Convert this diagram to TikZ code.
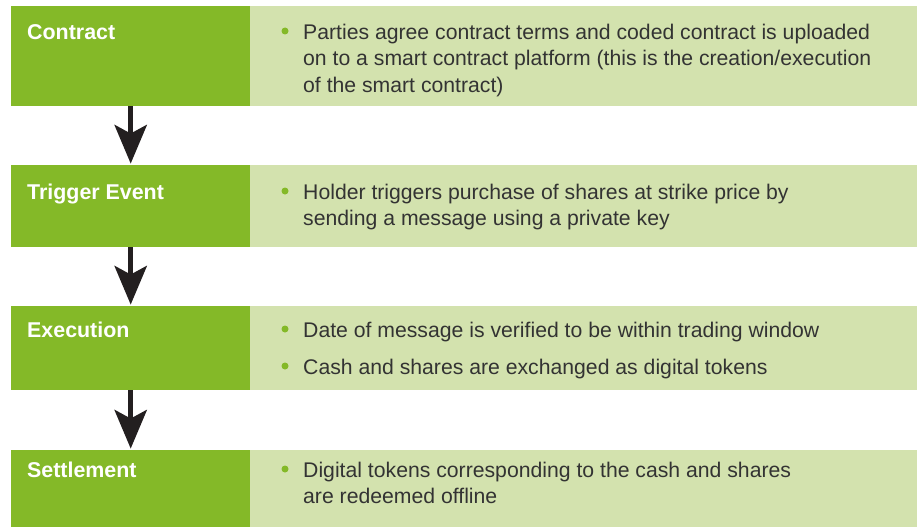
\documentclass[tikz,border=0pt]{standalone}
\usepackage{fontspec}
\setmainfont{Liberation Sans}
\usetikzlibrary{arrows.meta}
\definecolor{leafgreen}{RGB}{132,185,40}
\definecolor{palegreen}{RGB}{211,226,174}
\definecolor{inkgray}{RGB}{51,51,51}
\definecolor{arrowink}{RGB}{35,31,32}
% top-aligned paragraph, so that the node baseline is the first line's
\newcommand{\notelines}[1]{\parbox[t]{610pt}{\raggedright #1}}
\begin{document}
\begin{tikzpicture}[x=1pt,y=-1pt,
  stagebox/.style={fill=leafgreen, draw=none, inner sep=0, minimum width=239pt, anchor=north west},
  notebox/.style={fill=palegreen, draw=none, inner sep=0, minimum width=667pt, anchor=north west},
  stagelabel/.style={text=white, font=\fontsize{21.4}{25}\selectfont\bfseries, anchor=base west, inner sep=0},
  notetext/.style={text=inkgray, font=\fontsize{21.2}{26.5}\selectfont, anchor=base west, inner sep=0},
  dot/.style={circle, fill=leafgreen, minimum size=7pt, inner sep=0},
  flow/.style={line width=5pt, draw=arrowink, shorten >=1.5pt,
    -{Stealth[length=39pt,width=33pt,inset=9pt,line width=0pt,fill=arrowink]}}
]
\useasboundingbox (0,0) rectangle (920,527);

% stage column and description column
\node[stagebox, minimum height=100pt] (contract) at (11,6) {};
\node[notebox,  minimum height=100pt] (contractnote) at (250,6) {};
\node[stagebox, minimum height=82pt] (trigger) at (11,165) {};
\node[notebox,  minimum height=82pt] (triggernote) at (250,165) {};
\node[stagebox, minimum height=84pt] (execution) at (11,306) {};
\node[notebox,  minimum height=84pt] (executionnote) at (250,306) {};
\node[stagebox, minimum height=77pt] (settlement) at (11,450) {};
\node[notebox,  minimum height=77pt] (settlementnote) at (250,450) {};

% stage titles
\node[stagelabel] (contractlabel) at (27,39.3) {Contract};
\node[stagelabel] (triggerlabel) at (27,199) {Trigger Event};
\node[stagelabel] (executionlabel) at (27,337) {Execution};
\node[stagelabel] (settlementlabel) at (27,477) {Settlement};

% bullet points
\node[dot] (b1) at (285,31) {};
\node[notetext] (t1) at (303,39.3) {\notelines{Parties agree contract terms and coded contract is uploaded\\on to a smart contract platform (this is the creation/execution\\of the smart contract)}};
\node[dot] (b2) at (285,191) {};
\node[notetext] (t2) at (303,199) {\notelines{Holder triggers purchase of shares at strike price by\\sending a message using a private key}};
\node[dot] (b3) at (285,329) {};
\node[notetext] (t3) at (303,337) {Date of message is verified to be within trading window};
\node[dot] (b4) at (285,366) {};
\node[notetext] (t4) at (303,374) {Cash and shares are exchanged as digital tokens};
\node[dot] (b5) at (285,469) {};
\node[notetext] (t5) at (303,477) {\notelines{Digital tokens corresponding to the cash and shares\\are redeemed offline}};

% flow between stages
\draw[flow] (contract.south) -- (trigger.north);
\draw[flow] (trigger.south) -- (execution.north);
\draw[flow] (execution.south) -- (settlement.north);
\end{tikzpicture}
\end{document}
